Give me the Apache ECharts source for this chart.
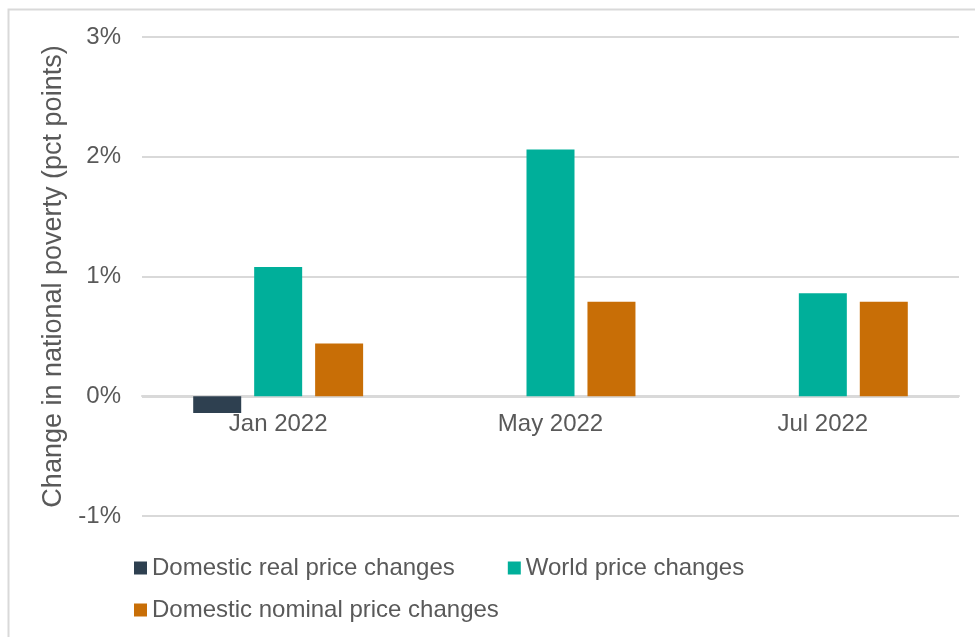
<!DOCTYPE html>
<html>
<head>
<meta charset="utf-8">
<script src="https://cdn.jsdelivr.net/npm/echarts@6/dist/echarts.min.js"></script>
<style>
  html, body { margin: 0; padding: 0; background: #fff; }
  #chart { width: 975px; height: 637px; }
</style>
</head>
<body>
<div id="chart"></div>
<script>
var categories = ["Jan 2022", "May 2022", "Jul 2022"];
var domesticReal = [-0.14, 0, 0];
var worldPrice = [1.08, 2.06, 0.86];
var domesticNominal = [0.44, 0.79, 0.79];
var seriesNames = ["Domestic real price changes", "World price changes", "Domestic nominal price changes"];
var colors = ["#2E4050", "#00AF9A", "#C86E06"];

var font = "Liberation Sans, Arial, sans-serif";
var textColor = "#595959";
var gridColor = "#D9D9D9";

var myChart = echarts.init(document.getElementById("chart"));

function barSeries(name, data, color) {
  return {
    name: name,
    type: "bar",
    data: data,
    barWidth: 48,
    barGap: "27%",
    itemStyle: { color: color }
  };
}

var option = {
  animation: false,
  backgroundColor: "#fff",
  textStyle: { fontFamily: font },
  graphic: [
    {
      type: "rect",
      left: 6,
      top: 7,
      shape: { width: 1000, height: 1000 },
      style: { fill: "none", stroke: gridColor, lineWidth: 2 },
      silent: true
    }
  ],
  grid: { left: 142, right: 16, top: 37, bottom: 121 },
  legend: [
    {
      data: [seriesNames[0], seriesNames[1]],
      left: 134,
      top: 556,
      padding: 0,
      itemWidth: 13,
      itemHeight: 13,
      itemGap: 53,
      icon: "rect",
      textStyle: { fontSize: 24, color: textColor, fontFamily: font }
    },
    {
      data: [seriesNames[2]],
      left: 134,
      top: 598,
      padding: 0,
      itemWidth: 13,
      itemHeight: 13,
      icon: "rect",
      textStyle: { fontSize: 24, color: textColor, fontFamily: font }
    }
  ],
  xAxis: {
    type: "category",
    data: categories,
    offset: -120,
    axisLine: { onZero: false, lineStyle: { color: gridColor, width: 2 } },
    axisTick: { show: false },
    axisLabel: { fontSize: 24, color: textColor, margin: 16 }
  },
  yAxis: {
    type: "value",
    min: -1,
    max: 3,
    interval: 1,
    name: "Change in national poverty (pct points)",
    nameLocation: "middle",
    nameGap: 72,
    nameTextStyle: { fontSize: 27, color: textColor },
    axisLine: { show: false },
    axisTick: { show: false },
    splitLine: { lineStyle: { color: gridColor, width: 2 } },
    axisLabel: { fontSize: 24, color: textColor, margin: 21, formatter: "{value}%" }
  },
  series: [
    barSeries(seriesNames[0], domesticReal, colors[0]),
    barSeries(seriesNames[1], worldPrice, colors[1]),
    barSeries(seriesNames[2], domesticNominal, colors[2])
  ]
};
myChart.setOption(option);
</script>
</body>
</html>
